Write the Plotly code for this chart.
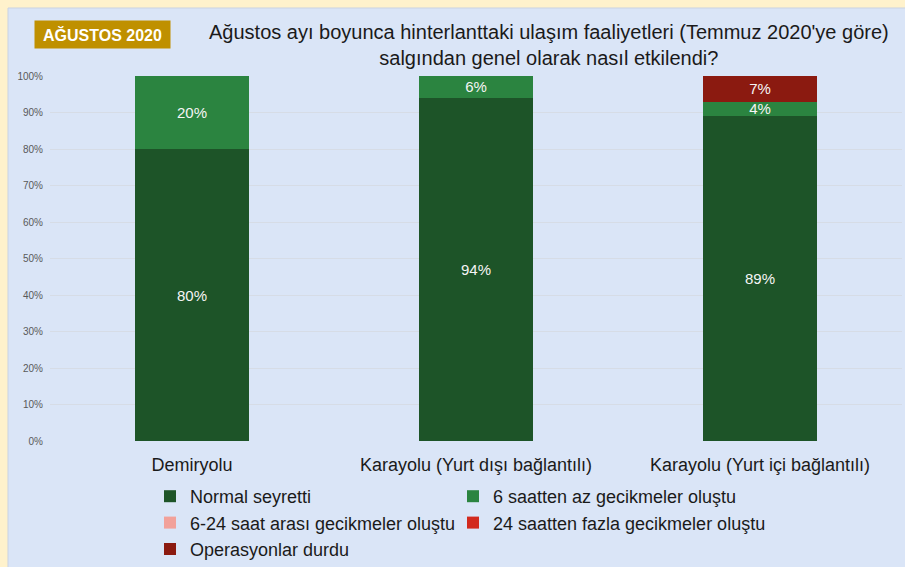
import plotly.graph_objects as go

categories = ["Demiryolu", "Karayolu (Yurt dışı bağlantılı)", "Karayolu (Yurt içi bağlantılı)"]
series_names = [
    "Normal seyretti",
    "6 saatten az gecikmeler oluştu",
    "6-24 saat arası gecikmeler oluştu",
    "24 saatten fazla gecikmeler oluştu",
    "Operasyonlar durdu",
]
normal = [80, 94, 89]
lt6 = [20, 6, 4]
h6_24 = [0, 0, 0]
gt24 = [0, 0, 0]
stopped = [0, 0, 7]
values = [normal, lt6, h6_24, gt24, stopped]
colors = ["#1D5428", "#2B8440", "#F2A19A", "#D22A1E", "#8B1A10"]
legend_columns = ["legend", "legend2", "legend", "legend2", "legend"]
tick_vals = [0, 10, 20, 30, 40, 50, 60, 70, 80, 90, 100]
tick_text = [f"{v}%" for v in tick_vals]

W, H = 905, 567
L, R, T, B = 50, 3, 76, 126
pw, ph = W - L - R, H - T - B

def px(x):
    return (x - L) / pw

def py(y):
    return (H - B - y) / ph

fig = go.Figure()
for name, vals, col, lg in zip(series_names, values, colors, legend_columns):
    fig.add_trace(go.Bar(
        x=categories, y=vals, name=name, marker_color=col,
        marker_line_width=0, legend=lg,
        text=[f"{v}%" if v > 0 else "" for v in vals],
        textposition="inside", insidetextanchor="middle",
        textfont=dict(color="#F5F5F5", size=15, family="Liberation Sans, Arial"),
        textangle=0, constraintext="none",
    ))

legend_common = dict(
    orientation="v", yanchor="top", xanchor="left",
    font=dict(size=18, color="#1a1a1a"), bgcolor="rgba(0,0,0,0)",
    traceorder="normal", itemwidth=30, tracegroupgap=0,
)

fig.update_layout(
    width=W, height=H,
    margin=dict(l=L, r=R, t=T, b=B, autoexpand=False),
    barmode="stack", bargap=0.6,
    paper_bgcolor="#FFF2CC", plot_bgcolor="#DAE5F7",
    font=dict(family="Liberation Sans, Arial", color="#1a1a1a"),
    uniformtext=dict(minsize=15, mode="show"),
    showlegend=True,
    legend=dict(x=px(150), y=py(478), **legend_common),
    legend2=dict(x=px(453), y=py(478), **legend_common),
    xaxis=dict(tickfont=dict(size=18, color="#1a1a1a"), showgrid=False,
               ticklabelstandoff=11, showline=False, zeroline=False),
    yaxis=dict(range=[0, 100], tickmode="array", tickvals=tick_vals, ticktext=tick_text,
               tickfont=dict(size=10, color="#595959"), gridcolor="#D6DCE6",
               gridwidth=1, zeroline=False, showline=False, ticklabelstandoff=6),
)

fig.add_shape(type="rect", xref="paper", yref="paper",
              x0=px(8), x1=px(W + 5), y0=py(H + 5), y1=py(8),
              fillcolor="#DAE5F7", line=dict(color="#C9D3E3", width=1), layer="below")

fig.add_annotation(xref="paper", yref="paper", x=px(102), y=py(34),
                   text="<b>AĞUSTOS 2020</b>", showarrow=False,
                   font=dict(size=16, color="white", family="Liberation Sans, Arial"),
                   bgcolor="#BF9000", width=133, height=25,
                   xanchor="center", yanchor="middle")
fig.add_annotation(xref="paper", yref="paper", x=px(549), y=py(45),
                   text="Ağustos ayı boyunca hinterlanttaki ulaşım faaliyetleri (Temmuz 2020'ye göre)<br>salgından genel olarak nasıl etkilendi?",
                   showarrow=False, font=dict(size=20, color="#1a1a1a", family="Liberation Sans, Arial"),
                   xanchor="center", yanchor="middle", align="center")

fig.write_html("out.html")
